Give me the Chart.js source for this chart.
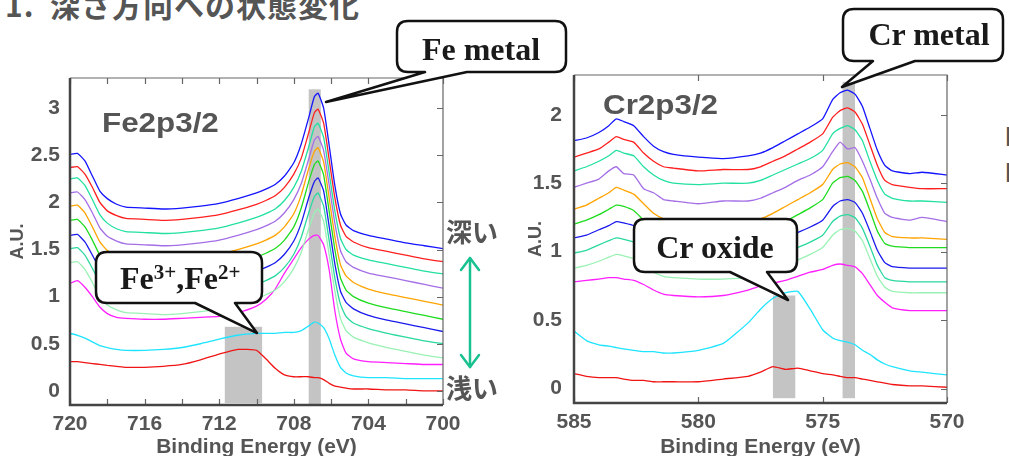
<!DOCTYPE html>
<html>
<head>
<meta charset="utf-8">
<script src="https://cdn.jsdelivr.net/npm/chart.js@4.4.0/dist/chart.umd.min.js"></script>
<style>
  html, body { margin: 0; padding: 0; background: #fff; }
  body { width: 1009px; height: 456px; overflow: hidden; position: relative; font-family: "Liberation Sans", Arial, sans-serif; }
  canvas { position: absolute; }
  #feChart { left: 0; top: 60px; }
  #crChart { left: 480px; top: 60px; }
  .lbl { position: absolute; color: #555; font-weight: bold; white-space: nowrap; line-height: 1; }
  .jp { font-family: "Noto Sans CJK JP", sans-serif; }
  .peak { font-size: 28px; transform: scaleX(1.12); transform-origin: left top; }
  #notes { position: absolute; left: 0; top: 0; }
</style>
</head>
<body>
<div class="lbl jp" style="left:5px;top:-11px;font-size:30px;letter-spacing:1px;white-space:pre">1.  深さ方向への状態変化</div>
<canvas id="feChart" width="463" height="400"></canvas>
<canvas id="crChart" width="490" height="400"></canvas>
<div class="lbl peak" style="left:102px;top:109px">Fe2p3/2</div>
<div class="lbl peak" style="left:603px;top:91px">Cr2p3/2</div>
<div class="lbl jp" style="left:446px;top:218px;font-size:26px">深い</div>
<div class="lbl jp" style="left:446px;top:374px;font-size:26px">浅い</div>
<div class="lbl" style="left:1005px;top:119px;font-size:28px;line-height:36px">F<br>F</div>

<svg id="notes" width="1009" height="456">
  <g id="callouts" fill="#fff" stroke="#111" stroke-width="2.5" stroke-linejoin="round"></g>
  <g font-family="'Liberation Serif', 'Times New Roman', serif" font-weight="bold" font-size="32" fill="#1a1a1a" text-anchor="middle">
    <text x="481" y="60">Fe metal</text>
    <text x="929" y="45">Cr metal</text>
    <text x="715" y="258">Cr oxide</text>
  </g>
  <text x="120" y="289" font-family="'Liberation Serif', 'Times New Roman', serif" font-weight="bold" font-size="32" fill="#1a1a1a">Fe<tspan dy="-10" font-size="21">3+</tspan><tspan dy="10">,Fe</tspan><tspan dy="-10" font-size="21">2+</tspan></text>
  <g stroke="#18c190" stroke-width="2.5" fill="none" stroke-linecap="round" stroke-linejoin="round">
    <line x1="470" y1="258" x2="470" y2="367"/>
    <polyline points="461,270 470,258 479,270"/>
    <polyline points="461,355 470,367 479,355"/>
  </g>
</svg>

<script>
// Fe2p3/2 : binding energy (eV) and 12 depth spectra (deep -> shallow)
const feEnergy = [720, 719.6, 719.2, 718.8, 718.4, 718, 717.5, 717, 716, 715, 714, 713, 712, 711, 710, 709.5, 709, 708.5, 708, 707.6, 707.2, 706.9, 706.7, 706.4, 706.1, 705.8, 705.5, 705.2, 704.8, 704, 703, 702, 701, 700];
const fe01 = [2.51, 2.52, 2.44, 2.28, 2.12, 2.04, 1.98, 1.95, 1.94, 1.93, 1.94, 1.96, 1.99, 2.04, 2.10, 2.14, 2.19, 2.28, 2.42, 2.62, 2.90, 3.12, 3.16, 3.00, 2.60, 2.18, 1.88, 1.76, 1.70, 1.65, 1.61, 1.57, 1.54, 1.51];
const fe02 = [2.37, 2.38, 2.30, 2.16, 2.00, 1.91, 1.86, 1.83, 1.82, 1.81, 1.82, 1.84, 1.87, 1.92, 1.98, 2.02, 2.07, 2.16, 2.30, 2.47, 2.74, 2.95, 2.99, 2.84, 2.45, 2.05, 1.76, 1.64, 1.58, 1.52, 1.48, 1.44, 1.40, 1.37];
const fe03 = [2.25, 2.26, 2.18, 2.03, 1.87, 1.78, 1.72, 1.69, 1.68, 1.67, 1.68, 1.70, 1.73, 1.78, 1.84, 1.88, 1.93, 2.02, 2.16, 2.33, 2.59, 2.80, 2.84, 2.69, 2.31, 1.91, 1.62, 1.50, 1.44, 1.39, 1.35, 1.31, 1.27, 1.24];
const fe04 = [2.10, 2.11, 2.03, 1.89, 1.73, 1.64, 1.59, 1.56, 1.55, 1.54, 1.55, 1.57, 1.60, 1.65, 1.71, 1.75, 1.80, 1.89, 2.03, 2.20, 2.46, 2.66, 2.70, 2.55, 2.18, 1.78, 1.49, 1.37, 1.31, 1.25, 1.21, 1.17, 1.13, 1.09];
const fe05 = [1.96, 1.97, 1.89, 1.74, 1.58, 1.49, 1.44, 1.41, 1.40, 1.39, 1.40, 1.42, 1.45, 1.50, 1.56, 1.60, 1.65, 1.74, 1.88, 2.08, 2.36, 2.54, 2.58, 2.43, 2.04, 1.64, 1.34, 1.22, 1.15, 1.08, 1.03, 0.99, 0.95, 0.91];
const fe06 = [1.81, 1.82, 1.74, 1.60, 1.44, 1.35, 1.30, 1.27, 1.26, 1.25, 1.26, 1.28, 1.31, 1.36, 1.42, 1.46, 1.51, 1.60, 1.74, 1.94, 2.22, 2.40, 2.44, 2.29, 1.90, 1.50, 1.20, 1.07, 1.00, 0.93, 0.88, 0.84, 0.80, 0.76];
const fe07 = [1.65, 1.66, 1.58, 1.44, 1.29, 1.20, 1.15, 1.12, 1.11, 1.10, 1.11, 1.13, 1.16, 1.21, 1.27, 1.31, 1.36, 1.45, 1.59, 1.78, 2.05, 2.22, 2.26, 2.12, 1.74, 1.35, 1.06, 0.94, 0.87, 0.80, 0.75, 0.71, 0.67, 0.63];
const fe08 = [1.51, 1.52, 1.44, 1.30, 1.15, 1.06, 1.01, 0.98, 0.97, 0.96, 0.97, 0.99, 1.02, 1.07, 1.13, 1.17, 1.22, 1.31, 1.45, 1.63, 1.89, 2.06, 2.10, 1.96, 1.59, 1.20, 0.92, 0.79, 0.72, 0.66, 0.61, 0.57, 0.53, 0.50];
const fe09 = [1.36, 1.37, 1.29, 1.15, 1.00, 0.91, 0.86, 0.83, 0.82, 0.81, 0.82, 0.84, 0.87, 0.92, 0.98, 1.02, 1.07, 1.16, 1.30, 1.47, 1.72, 1.89, 1.93, 1.80, 1.44, 1.06, 0.77, 0.64, 0.57, 0.51, 0.46, 0.42, 0.38, 0.35];
const fe10 = [1.14, 1.17, 1.10, 1.00, 0.89, 0.82, 0.78, 0.77, 0.76, 0.76, 0.77, 0.78, 0.79, 0.83, 0.90, 0.97, 1.08, 1.25, 1.40, 1.52, 1.61, 1.65, 1.65, 1.55, 1.28, 0.85, 0.55, 0.40, 0.34, 0.31, 0.30, 0.29, 0.28, 0.28];
const fe11 = [0.61, 0.59, 0.56, 0.52, 0.48, 0.46, 0.44, 0.43, 0.43, 0.44, 0.46, 0.50, 0.55, 0.59, 0.61, 0.61, 0.61, 0.62, 0.62, 0.64, 0.69, 0.73, 0.72, 0.67, 0.55, 0.38, 0.25, 0.19, 0.16, 0.14, 0.14, 0.13, 0.13, 0.13];
const fe12 = [0.31, 0.31, 0.30, 0.29, 0.28, 0.27, 0.26, 0.25, 0.25, 0.26, 0.28, 0.33, 0.39, 0.44, 0.43, 0.34, 0.24, 0.17, 0.15, 0.15, 0.15, 0.14, 0.14, 0.12, 0.08, 0.05, 0.04, 0.03, 0.02, 0.02, 0.01, 0.01, 0.00, 0.00];

// Cr2p3/2
const crEnergy = [585, 584.5, 584, 583.6, 583.3, 583, 582.6, 582.2, 581.8, 581.4, 581, 580, 579, 578, 577.5, 577, 576.5, 576, 575.5, 575, 574.6, 574.3, 574, 573.7, 573.4, 573.1, 572.8, 572.5, 572.2, 571.5, 571, 570];
const cr01 = [1.81, 1.83, 1.87, 1.92, 1.97, 1.95, 1.92, 1.84, 1.77, 1.73, 1.71, 1.69, 1.68, 1.70, 1.72, 1.76, 1.81, 1.86, 1.91, 1.97, 2.11, 2.16, 2.18, 2.15, 2.06, 1.90, 1.74, 1.63, 1.59, 1.57, 1.58, 1.56];
const cr02 = [1.69, 1.72, 1.75, 1.80, 1.84, 1.82, 1.80, 1.72, 1.66, 1.62, 1.61, 1.59, 1.60, 1.60, 1.62, 1.66, 1.70, 1.75, 1.80, 1.86, 1.98, 2.03, 2.05, 2.02, 1.93, 1.78, 1.63, 1.52, 1.49, 1.47, 1.46, 1.46];
const cr03 = [1.59, 1.62, 1.66, 1.70, 1.74, 1.72, 1.70, 1.62, 1.56, 1.52, 1.50, 1.49, 1.50, 1.50, 1.52, 1.56, 1.60, 1.64, 1.68, 1.74, 1.86, 1.90, 1.92, 1.89, 1.81, 1.66, 1.52, 1.42, 1.39, 1.37, 1.37, 1.36];
const cr04 = [1.47, 1.50, 1.53, 1.59, 1.62, 1.57, 1.56, 1.46, 1.43, 1.38, 1.37, 1.35, 1.37, 1.37, 1.39, 1.43, 1.47, 1.52, 1.56, 1.62, 1.73, 1.80, 1.75, 1.76, 1.66, 1.53, 1.39, 1.28, 1.25, 1.23, 1.25, 1.22];
const cr05 = [1.31, 1.34, 1.39, 1.43, 1.47, 1.45, 1.42, 1.35, 1.28, 1.24, 1.22, 1.21, 1.21, 1.22, 1.24, 1.28, 1.33, 1.38, 1.43, 1.49, 1.60, 1.64, 1.65, 1.62, 1.54, 1.39, 1.24, 1.14, 1.11, 1.10, 1.10, 1.09];
const cr06 = [1.20, 1.23, 1.27, 1.31, 1.34, 1.33, 1.30, 1.23, 1.17, 1.13, 1.11, 1.10, 1.10, 1.11, 1.13, 1.17, 1.22, 1.27, 1.32, 1.38, 1.50, 1.54, 1.55, 1.52, 1.44, 1.30, 1.15, 1.06, 1.04, 1.03, 1.03, 1.03];
const cr07 = [1.10, 1.12, 1.16, 1.19, 1.22, 1.21, 1.19, 1.12, 1.06, 1.03, 1.01, 1.00, 1.00, 1.01, 1.03, 1.06, 1.10, 1.14, 1.18, 1.23, 1.33, 1.37, 1.38, 1.36, 1.28, 1.15, 1.01, 0.92, 0.89, 0.88, 0.88, 0.88];
const cr08 = [0.99, 1.01, 1.05, 1.08, 1.10, 1.09, 1.07, 1.01, 0.95, 0.92, 0.90, 0.89, 0.89, 0.90, 0.92, 0.95, 0.99, 1.03, 1.07, 1.12, 1.22, 1.26, 1.27, 1.25, 1.17, 1.04, 0.90, 0.81, 0.79, 0.78, 0.78, 0.78];
const cr09 = [0.88, 0.90, 0.93, 0.96, 0.98, 0.97, 0.95, 0.90, 0.85, 0.82, 0.81, 0.80, 0.80, 0.81, 0.83, 0.86, 0.90, 0.94, 0.98, 1.03, 1.12, 1.16, 1.17, 1.15, 1.08, 0.95, 0.82, 0.74, 0.71, 0.70, 0.70, 0.70];
const cr10 = [0.78, 0.79, 0.80, 0.81, 0.81, 0.80, 0.79, 0.76, 0.72, 0.69, 0.68, 0.67, 0.68, 0.72, 0.75, 0.77, 0.79, 0.82, 0.85, 0.87, 0.90, 0.91, 0.90, 0.89, 0.84, 0.76, 0.68, 0.63, 0.59, 0.57, 0.57, 0.57];
const cr11 = [0.42, 0.35, 0.32, 0.31, 0.30, 0.29, 0.28, 0.27, 0.27, 0.26, 0.26, 0.28, 0.33, 0.48, 0.58, 0.66, 0.70, 0.71, 0.58, 0.43, 0.37, 0.35, 0.34, 0.32, 0.28, 0.25, 0.21, 0.18, 0.16, 0.13, 0.12, 0.10];
const cr12 = [0.11, 0.09, 0.08, 0.08, 0.08, 0.07, 0.06, 0.06, 0.05, 0.05, 0.05, 0.05, 0.07, 0.09, 0.12, 0.16, 0.14, 0.15, 0.13, 0.11, 0.10, 0.09, 0.08, 0.08, 0.07, 0.06, 0.05, 0.04, 0.03, 0.02, 0.02, 0.01];

// axis ticks
const feXTicks = [700, 702, 704, 706, 708, 710, 712, 714, 716, 718, 720];
const feXLabels = [700, 704, 708, 712, 716, 720];
const feYTicks = [0, 0.5, 1, 1.5, 2, 2.5, 3];
const crXTicks = [570, 575, 580, 585];
const crYTicks = [0, 0.5, 1, 1.5, 2];

// shaded regions (energy range, intensity range)
const feBands = [
  { from: 711.7, to: 709.7, low: -0.13, high: 0.68 },
  { from: 707.2, to: 706.55, low: -0.15, high: 3.2 }
];
const crBands = [
  { from: 577.0, to: 576.1, low: -0.07, high: 0.68 },
  { from: 574.2, to: 573.7, low: -0.07, high: 2.24 }
];

const lineColors = ['#1414ff', '#ff1f1f', '#22e0a0', '#a46ee6', '#ffa400', '#1fdc1f',
                    '#1a1aee', '#2ad8a0', '#99f2b4', '#ff1fff', '#1fe4ff', '#f01414'];

const feSeries = [fe01, fe02, fe03, fe04, fe05, fe06, fe07, fe08, fe09, fe10, fe11, fe12];
const crSeries = [cr01, cr02, cr03, cr04, cr05, cr06, cr07, cr08, cr09, cr10, cr11, cr12];

const INK = '#555';
const tickFont = { family: '"Liberation Sans", Arial, sans-serif', size: 21, weight: 'bold' };

// bands under the curves, frame and inward ticks over them
const frameTicks = {
  id: 'frameTicks',
  beforeDatasetsDraw(chart, args, opts) {
    const { ctx, scales: { x, y } } = chart;
    ctx.save();
    ctx.fillStyle = '#c4c4c4';
    opts.bands.forEach(b => {
      const xa = x.getPixelForValue(b.from), xb = x.getPixelForValue(b.to);
      const ya = y.getPixelForValue(b.high), yb = y.getPixelForValue(b.low);
      ctx.fillRect(Math.min(xa, xb), ya, Math.abs(xb - xa), yb - ya);
    });
    ctx.restore();
  },
  afterDatasetsDraw(chart) {
    const { ctx, chartArea: a, scales: { x, y } } = chart;
    ctx.save();
    ctx.strokeStyle = '#666';
    ctx.lineWidth = 1.2;
    ctx.beginPath();
    x.ticks.forEach(t => {
      const px = Math.round(x.getPixelForValue(t.value)) + 0.5;
      ctx.moveTo(px, a.top); ctx.lineTo(px, a.top + 6);
      ctx.moveTo(px, a.bottom); ctx.lineTo(px, a.bottom - 6);
    });
    y.ticks.forEach(t => {
      const py = Math.round(y.getPixelForValue(t.value)) + 0.5;
      ctx.moveTo(a.right, py); ctx.lineTo(a.right - 6, py);
    });
    ctx.moveTo(a.left, a.top); ctx.lineTo(a.right, a.top); ctx.lineTo(a.right, a.bottom);
    ctx.stroke();
    ctx.strokeStyle = '#444';
    ctx.lineWidth = 2.5;
    ctx.beginPath();
    ctx.moveTo(a.left, a.top); ctx.lineTo(a.left, a.bottom); ctx.lineTo(a.right, a.bottom);
    ctx.stroke();
    ctx.restore();
  }
};

function makeChart(id, energy, series, cfg) {
  return new Chart(document.getElementById(id), {
    type: 'line',
    data: {
      datasets: series.map((s, i) => ({
        data: energy.map((e, k) => ({ x: e, y: s[k] })),
        borderColor: lineColors[i],
        borderWidth: 1.3,
        pointRadius: 0,
        tension: 0.15,
        fill: false
      }))
    },
    options: {
      responsive: false,
      animation: false,
      layout: { padding: cfg.padding },
      plugins: {
        legend: { display: false },
        tooltip: { enabled: false },
        frameTicks: { bands: cfg.bands }
      },
      scales: {
        x: {
          type: 'linear',
          reverse: true,
          min: cfg.xMin,
          max: cfg.xMax,
          afterBuildTicks: s => { s.ticks = cfg.xTicks.map(v => ({ value: v })); },
          afterFit: s => { s.height = cfg.xHeight; },
          // tick marks are drawn by the plugin; tickLength only spaces the labels
          grid: { display: false, drawTicks: true, tickLength: 7 },
          border: { display: false },
          ticks: {
            autoSkip: false, maxRotation: 0, padding: 0, color: INK, font: tickFont,
            callback: v => cfg.xLabels.includes(v) ? String(v) : ''
          },
          title: { display: true, text: 'Binding Energy (eV)', color: INK, font: tickFont, padding: { top: 0, bottom: 0 } }
        },
        y: {
          min: cfg.yMin,
          max: cfg.yMax,
          afterBuildTicks: s => { s.ticks = cfg.yTicks.map(v => ({ value: v })); },
          afterFit: s => { s.width = cfg.yWidth; },
          grid: { display: false, drawTicks: true, tickLength: cfg.yPad },
          border: { display: false },
          ticks: { padding: 0, color: INK, font: tickFont, callback: v => String(v) },
          title: { display: true, text: 'A.U.', color: INK, font: { family: tickFont.family, size: 18, weight: 'bold' }, padding: { top: cfg.yTitlePad, bottom: 0 } }
        }
      }
    },
    plugins: [frameTicks]
  });
}

makeChart('feChart', feEnergy, feSeries, {
  padding: { top: 18, right: 20, left: 0, bottom: 0 },
  bands: feBands, xMin: 700, xMax: 720, xTicks: feXTicks, xLabels: feXLabels, xHeight: 55,
  yMin: -0.15, yMax: 3.32, yTicks: feYTicks, yWidth: 70, yPad: 10, yTitlePad: 7
});

makeChart('crChart', crEnergy, crSeries, {
  padding: { top: 15, right: 23, left: 0, bottom: 0 },
  bands: crBands, xMin: 570, xMax: 585, xTicks: crXTicks, xLabels: crXTicks, xHeight: 57,
  yMin: -0.105, yMax: 2.29, yTicks: crYTicks, yWidth: 94, yPad: 12, yTitlePad: 45
});

// speech-bubble callouts: rounded box with a wedge from its lower edge
function bubble(x1, y1, x2, y2, r, baseA, baseB, tipX, tipY) {
  return `M${x1 + r},${y1} H${x2 - r} Q${x2},${y1} ${x2},${y1 + r} V${y2 - r} Q${x2},${y2} ${x2 - r},${y2}` +
         ` H${baseB} L${tipX},${tipY} L${baseA},${y2} H${x1 + r} Q${x1},${y2} ${x1},${y2 - r} V${y1 + r} Q${x1},${y1} ${x1 + r},${y1} Z`;
}
const bubbles = [
  bubble(397, 21, 566, 72, 11, 425, 467, 326, 102),
  bubble(96, 252, 262, 303, 11, 195, 235, 257, 333),
  bubble(634, 219, 797, 272, 11, 730, 767, 788, 300),
  bubble(843, 9, 1003, 61, 11, 873, 915, 842, 87)
];
const g = document.getElementById('callouts');
bubbles.forEach(d => {
  const p = document.createElementNS('http://www.w3.org/2000/svg', 'path');
  p.setAttribute('d', d);
  g.appendChild(p);
});
</script>
</body>
</html>
